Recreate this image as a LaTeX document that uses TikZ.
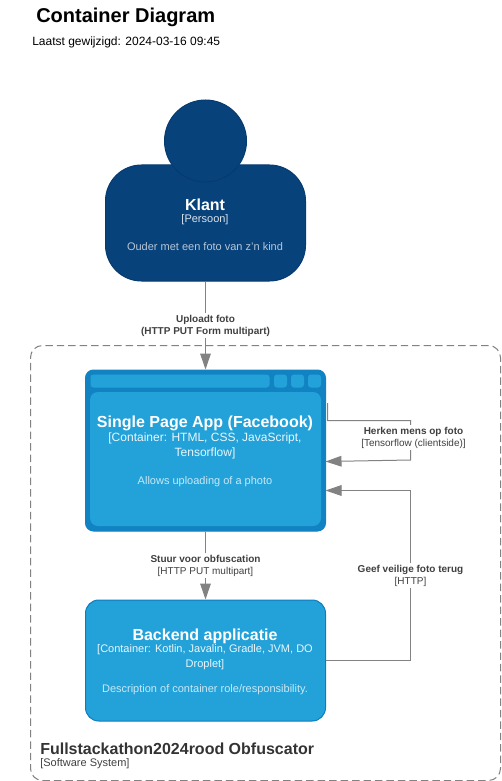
\documentclass[tikz,border=0pt]{standalone}
\usepackage{fontspec}
\setmainfont{Liberation Sans}
\usetikzlibrary{arrows.meta}
\definecolor{persoonkleur}{HTML}{08427B}
\definecolor{persoonrand}{HTML}{073B6F}
\definecolor{containerkleur}{HTML}{23A2D9}
\definecolor{containerrand}{HTML}{0E7DBE}
\definecolor{lijnkleur}{HTML}{828282}
\definecolor{tekstkleur}{HTML}{404040}
\tikzset{
  box/.style={draw, inner sep=0pt, line width=0.75pt},
  titel/.style={font=\bfseries\fontsize{12pt}{14pt}\selectfont, text=white, inner sep=0pt},
  soort/.style={font=\fontsize{8.25pt}{10.9pt}\selectfont, text=white!90!containerkleur, align=center, inner sep=0pt},
  omschrijving/.style={font=\fontsize{8.25pt}{10pt}\selectfont, text=white!75!containerkleur, inner sep=0pt},
  rel/.style={draw=lijnkleur, line width=0.75pt, -{Triangle[length=12pt, width=8pt, fill=lijnkleur]}},
  rellabel/.style={fill=white, align=center, inner sep=1.5pt, text=tekstkleur, font=\fontsize{7.5pt}{9pt}\selectfont},
  knop/.style={fill=containerkleur, draw=none, rounded corners=2.25pt, inner sep=0pt},
}
\begin{document}
\begin{tikzpicture}[x=0.75pt, y=-0.75pt]
  \useasboundingbox (0,0) rectangle (501,781);

  % Define the nodes
  \node[anchor=west, inner sep=0pt, font=\bfseries\fontsize{15pt}{18pt}\selectfont] (titel) at (36,17.5) {Container Diagram};
  \node[anchor=west, inner sep=0pt, font=\fontsize{9pt}{11pt}\selectfont] (gewijzigd) at (32,42) {Laatst gewijzigd: 2024-03-16 09:45};

  \node[box, draw=lijnkleur, dash pattern=on 5.6pt off 3pt, rounded corners=9pt, minimum width=352.5pt, minimum height=326.25pt] (systeem) at (265.5,563) {};

  \node[box, fill=persoonkleur, draw=persoonrand, rounded corners=27pt, minimum width=150pt, minimum height=87pt] (klant) at (205.5,223) {};
  \node[box, circle, fill=persoonkleur, draw=persoonrand, minimum size=61.5pt] (hoofd) at (205.5,141) {};

  \node[box, fill=containerrand!85!containerkleur, draw=containerrand!85!containerkleur, rounded corners=6pt, minimum width=180pt, minimum height=120.75pt] (spa) at (205.5,450.5) {};
  \node[knop, minimum width=134.25pt, minimum height=9.75pt] (balk) at (180,381) {};
  \node[knop, minimum size=9.75pt] (knop1) at (280.5,381) {};
  \node[knop, minimum size=9.75pt] (knop2) at (297.5,381) {};
  \node[knop, minimum size=9.75pt] (knop3) at (314.5,381) {};
  \node[knop, rounded corners=6pt, minimum width=173.25pt, minimum height=100.5pt] (paneel) at (205.5,459) {};

  \node[box, fill=containerkleur, draw=containerrand, rounded corners=10pt, minimum width=180pt, minimum height=90.75pt] (backend) at (205.5,660.5) {};

  % Texts of the boxes
  \node[titel] (klanttitel) at (205,205) {Klant};
  \node[soort, text=white!85!persoonkleur] (klantsoort) at (205,220) {[Persoon]};
  \node[omschrijving, text=white!70!persoonkleur] (klanttekst) at (205,247) {Ouder met een foto van z'n kind};

  \node[titel] (spatitel) at (205,423) {Single Page App (Facebook)};
  \node[soort, font=\fontsize{9pt}{11.25pt}\selectfont] (spasoort) at (205,446) {[Container: HTML, CSS, JavaScript,\\Tensorflow]};
  \node[omschrijving] (spatekst) at (205,482) {Allows uploading of a photo};

  \node[titel] (backendtitel) at (205,636) {Backend applicatie};
  \node[soort] (backendsoort) at (205,657) {[Container: Kotlin, Javalin, Gradle, JVM, DO\\Droplet]};
  \node[omschrijving] (backendtekst) at (205,690) {Description of container role/responsibility.};

  \node[anchor=west, inner sep=0pt, text=black!80, font=\bfseries\fontsize{12pt}{14pt}\selectfont] (systeemtitel) at (40,749) {Fullstackathon2024rood Obfuscator};
  \node[anchor=west, inner sep=0pt, text=black!75, font=\fontsize{8.25pt}{10pt}\selectfont] (systeemsoort) at (40,764) {[Software System]};

  % Corner points of the bent connectors
  \coordinate (herkenvan) at (327.5,403);
  \coordinate (herkenhoek1) at (327.5,420.5);
  \coordinate (herkenhoek2) at (410.5,420.5);
  \coordinate (herkenhoek3) at (410.5,460);
  \coordinate (herkennaar) at (325.5,461.5);
  \coordinate (geefvan) at (325.5,660.5);
  \coordinate (geefhoek1) at (410.5,660.5);
  \coordinate (geefhoek2) at (410.5,490.5);
  \coordinate (geefnaar) at (325.5,490.5);

  % Draw arrows between nodes
  \draw[rel] (klant) -- (spa);
  \draw[rel] (spa) -- (backend);
  \draw[rel] (herkenvan) -- (herkenhoek1) -- (herkenhoek2) -- (herkenhoek3) -- (herkennaar);
  \draw[rel] (geefvan) -- (geefhoek1) -- (geefhoek2) -- (geefnaar);

  % Connector labels
  \node[rellabel] (uploadt) at (205.5,325.5) {\textbf{Uploadt foto}\\\textbf{(HTTP PUT Form multipart)}};
  \node[rellabel] (stuur) at (205.5,565.5) {\textbf{Stuur voor obfuscation}\\{}[HTTP PUT multipart]};
  \node[rellabel] (herken) at (413.5,437.5) {\textbf{Herken mens op foto}\\{}[Tensorflow (clientside)]};
  \node[rellabel] (geef) at (410.5,575.5) {\textbf{Geef veilige foto terug}\\{}[HTTP]};
\end{tikzpicture}
\end{document}
